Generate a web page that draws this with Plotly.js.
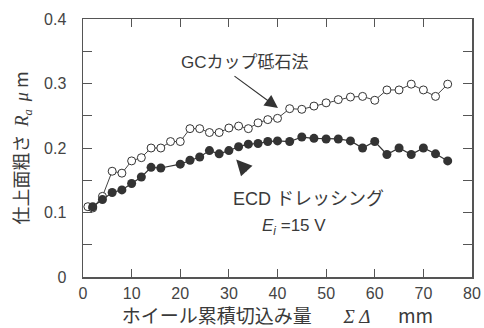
<!DOCTYPE html>
<html>
<head>
<meta charset="utf-8">
<script src="https://cdn.plot.ly/plotly-3.0.1.min.js"></script>
<style>html,body{margin:0;padding:0;background:#fff;}#chart{width:484px;height:328px;}</style>
</head>
<body>
<div id="chart"></div>
<script>
// GC cup grinding wheel method (open circles)
const xGC = [1, 2, 4, 6, 8, 10, 12, 14, 16, 18, 20, 22, 24, 26, 28, 30, 32, 34, 36, 38, 40,
             42.5, 45, 47.5, 50, 52.5, 55, 57.5, 60, 62.5, 65, 67.5, 70, 72.5, 75];
const yGC = [0.109, 0.107, 0.125, 0.164, 0.161, 0.180, 0.185, 0.200, 0.200, 0.210, 0.210, 0.230, 0.230, 0.224, 0.224, 0.231, 0.234, 0.230, 0.239, 0.244, 0.246,
             0.261, 0.260, 0.265, 0.270, 0.275, 0.279, 0.280, 0.274, 0.290, 0.290, 0.299, 0.290, 0.280, 0.299];
// ECD dressing (filled circles)
const xECD = [2, 4, 6, 8, 10, 12, 14, 16, 20, 22, 24, 26, 28, 30, 32, 34, 36, 38, 40,
              42.5, 45, 47.5, 50, 52.5, 55, 57.5, 60, 62.5, 65, 67.5, 70, 72.5, 75];
const yECD = [0.109, 0.120, 0.131, 0.135, 0.145, 0.155, 0.170, 0.169, 0.175, 0.181, 0.186, 0.196, 0.191, 0.196, 0.202, 0.206, 0.207, 0.210, 0.211,
              0.210, 0.217, 0.215, 0.214, 0.214, 0.211, 0.200, 0.210, 0.190, 0.200, 0.190, 0.200, 0.191, 0.180];
const xTickVals = [0, 10, 20, 30, 40, 50, 60, 70, 80];
const yTickVals = [0, 0.1, 0.2, 0.3, 0.4];
const yTickText = ['0', '0.1', '0.2', '0.3', '0.4'];

const FONT = 'Liberation Sans, Arial, Noto Sans CJK JP, sans-serif';
const TXT = '#3a3a3a';
const AX = '#555';

const traces = [
  {x: xGC, y: yGC, mode: 'lines+markers', type: 'scatter',
   line: {color: '#444', width: 1},
   marker: {symbol: 'circle', size: 8, color: '#fff', line: {color: '#333', width: 1}},
   cliponaxis: false, showlegend: false},
  {x: xECD, y: yECD, mode: 'lines+markers', type: 'scatter',
   line: {color: '#333', width: 1.2},
   marker: {symbol: 'circle', size: 9, color: '#333', line: {width: 0}},
   cliponaxis: false, showlegend: false}
];

const layout = {
  width: 484, height: 328,
  margin: {l: 83, r: 12, t: 19, b: 51},
  paper_bgcolor: '#fff', plot_bgcolor: '#fff',
  font: {family: FONT, color: TXT, size: 16},
  xaxis: {
    range: [0, 80], tickvals: xTickVals, ticks: 'inside', ticklen: 8, tickwidth: 1, tickcolor: AX,
    showline: true, linecolor: AX, linewidth: 1.5, mirror: 'allticks', showgrid: false, zeroline: false,
    tickfont: {size: 16, color: '#444'}, ticklabelstandoff: 1,
    title: {text: 'ホイール累積切込み量　   <i><span style="font-family:Liberation Serif">Σ Δ</span></i>　  mm',
            font: {size: 19, family: 'Noto Sans CJK JP, Liberation Sans', color: TXT}, standoff: 3}
  },
  yaxis: {
    range: [0, 0.4], tickvals: yTickVals, ticktext: yTickText, ticks: 'inside', ticklen: 9, tickwidth: 1, tickcolor: AX,
    minor: {dtick: 0.05, ticks: 'inside', ticklen: 9, tickwidth: 1, tickcolor: AX, showgrid: false},
    showline: true, linecolor: AX, linewidth: 1.5, mirror: 'allticks', showgrid: false, zeroline: false,
    tickfont: {size: 16, color: '#444'}, ticklabelstandoff: 12,
    title: {text: '仕上面粗さ  <i><span style="font-family:Liberation Serif">R<sub>a</sub></span></i>  <i><span style="font-family:Liberation Serif">μ</span></i> m',
            font: {size: 18, family: 'Noto Sans CJK JP, Liberation Sans', color: TXT}, standoff: 10}
  },
  annotations: [
    {x: 33.4, y: 0.333, xref: 'x', yref: 'y', text: 'GCカップ砥石法', showarrow: false,
     font: {size: 17, family: 'Liberation Sans, Noto Sans CJK JP', color: TXT}},
    {x: 40.1, y: 0.262, xref: 'x', yref: 'y', text: '', showarrow: true, ax: -45, ay: -33,
     arrowhead: 2, arrowsize: 2.2, arrowwidth: 1.2, arrowcolor: '#333'},
    {x: 31.5, y: 0.182, xref: 'x', yref: 'y', text: '', showarrow: true, ax: 12, ay: 13,
     arrowhead: 2, arrowsize: 2.6, arrowwidth: 1.2, arrowcolor: '#333'},
    {x: 46.4, y: 0.121, xref: 'x', yref: 'y', text: 'ECD ドレッシング', showarrow: false,
     font: {size: 18, family: 'Liberation Sans, Noto Sans CJK JP', color: TXT}},
    {x: 36.4, y: 0.0775, xref: 'x', yref: 'y', xanchor: 'left', text: '<i>E<sub>i</sub></i> =15 V', showarrow: false,
     font: {size: 17, family: 'Liberation Sans', color: TXT}}
  ]
};

Plotly.newPlot('chart', traces, layout, {staticPlot: true, displayModeBar: false});
</script>
</body>
</html>
